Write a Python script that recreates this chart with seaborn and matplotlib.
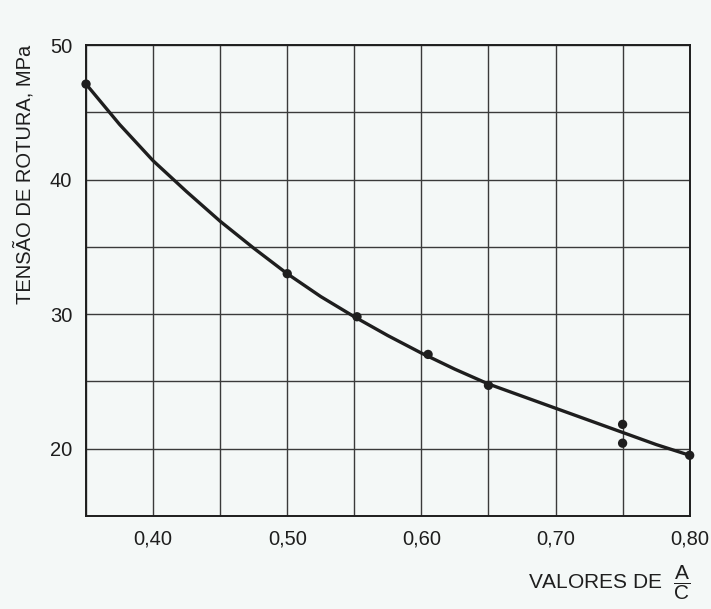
import numpy as np
import pandas as pd
import seaborn as sns
import matplotlib.pyplot as plt

# valores
curve_ac = [0.35, 0.375, 0.40, 0.425, 0.45, 0.475, 0.50, 0.525, 0.55, 0.575,
            0.60, 0.625, 0.65, 0.675, 0.70, 0.725, 0.75, 0.775, 0.80]
curve_mpa = [47.1, 44.1, 41.4, 39.1, 36.9, 34.9, 33.0, 31.3, 29.8, 28.4,
             27.1, 25.9, 24.8, 23.9, 23.0, 22.1, 21.2, 20.3, 19.5]

points_ac = [0.35, 0.50, 0.552, 0.605, 0.65, 0.75, 0.75, 0.80]
points_mpa = [47.1, 33.0, 29.8, 27.0, 24.7, 21.8, 20.4, 19.5]

x_ticks = [0.40, 0.50, 0.60, 0.70, 0.80]
x_ticklabels = ['0,40', '0,50', '0,60', '0,70', '0,80']
y_ticks = [20, 30, 40, 50]
y_ticklabels = ['20', '30', '40', '50']

sns.set_style("white")
plt.rcParams['font.family'] = ['Liberation Sans', 'DejaVu Sans']
plt.rcParams['mathtext.fontset'] = 'custom'
plt.rcParams['mathtext.sf'] = 'Liberation Sans'
bg = '#f4f8f7'
ink = '#1e1e1e'

fig = plt.figure(figsize=(7.11, 6.09), dpi=100, facecolor=bg)
ax = fig.add_axes([0.121, 0.153, 0.849, 0.773])
ax.set_facecolor(bg)

df_curve = pd.DataFrame({'ac': curve_ac, 'mpa': curve_mpa})
df_pts = pd.DataFrame({'ac': points_ac, 'mpa': points_mpa})

sns.lineplot(data=df_curve, x='ac', y='mpa', ax=ax, color=ink, lw=2.4, zorder=3)
sns.scatterplot(data=df_pts, x='ac', y='mpa', ax=ax, color=ink, s=45,
                edgecolor='none', zorder=4, clip_on=False)

ax.set_xlim(0.35, 0.80)
ax.set_ylim(15, 50)

# grade de 0.05 em x e 5 em y
ax.set_xticks(np.arange(0.35, 0.801, 0.05), minor=True)
ax.set_yticks(np.arange(15, 50.1, 5), minor=True)
ax.set_xticks(x_ticks)
ax.set_xticklabels(x_ticklabels, fontsize=14.5, color=ink)
ax.set_yticks(y_ticks)
ax.set_yticklabels(y_ticklabels, fontsize=14.5, color=ink)
ax.grid(which='both', color='#3a3a3a', lw=1.0)
ax.tick_params(which='both', length=0, pad=10)

for s in ax.spines.values():
    s.set_color(ink)
    s.set_linewidth(1.4)

ax.set_xlabel('')
ax.set_ylabel('TENSÃO DE ROTURA, MPa', fontsize=14.5, loc='top', labelpad=11,
              color=ink)

fig.text(0.97, 0.043, r'VALORES DE  $\dfrac{\mathsf{A}}{\mathsf{C}}$', ha='right',
         va='center', fontsize=15, color=ink)

fig.savefig('out.png', dpi=100, facecolor=bg)
